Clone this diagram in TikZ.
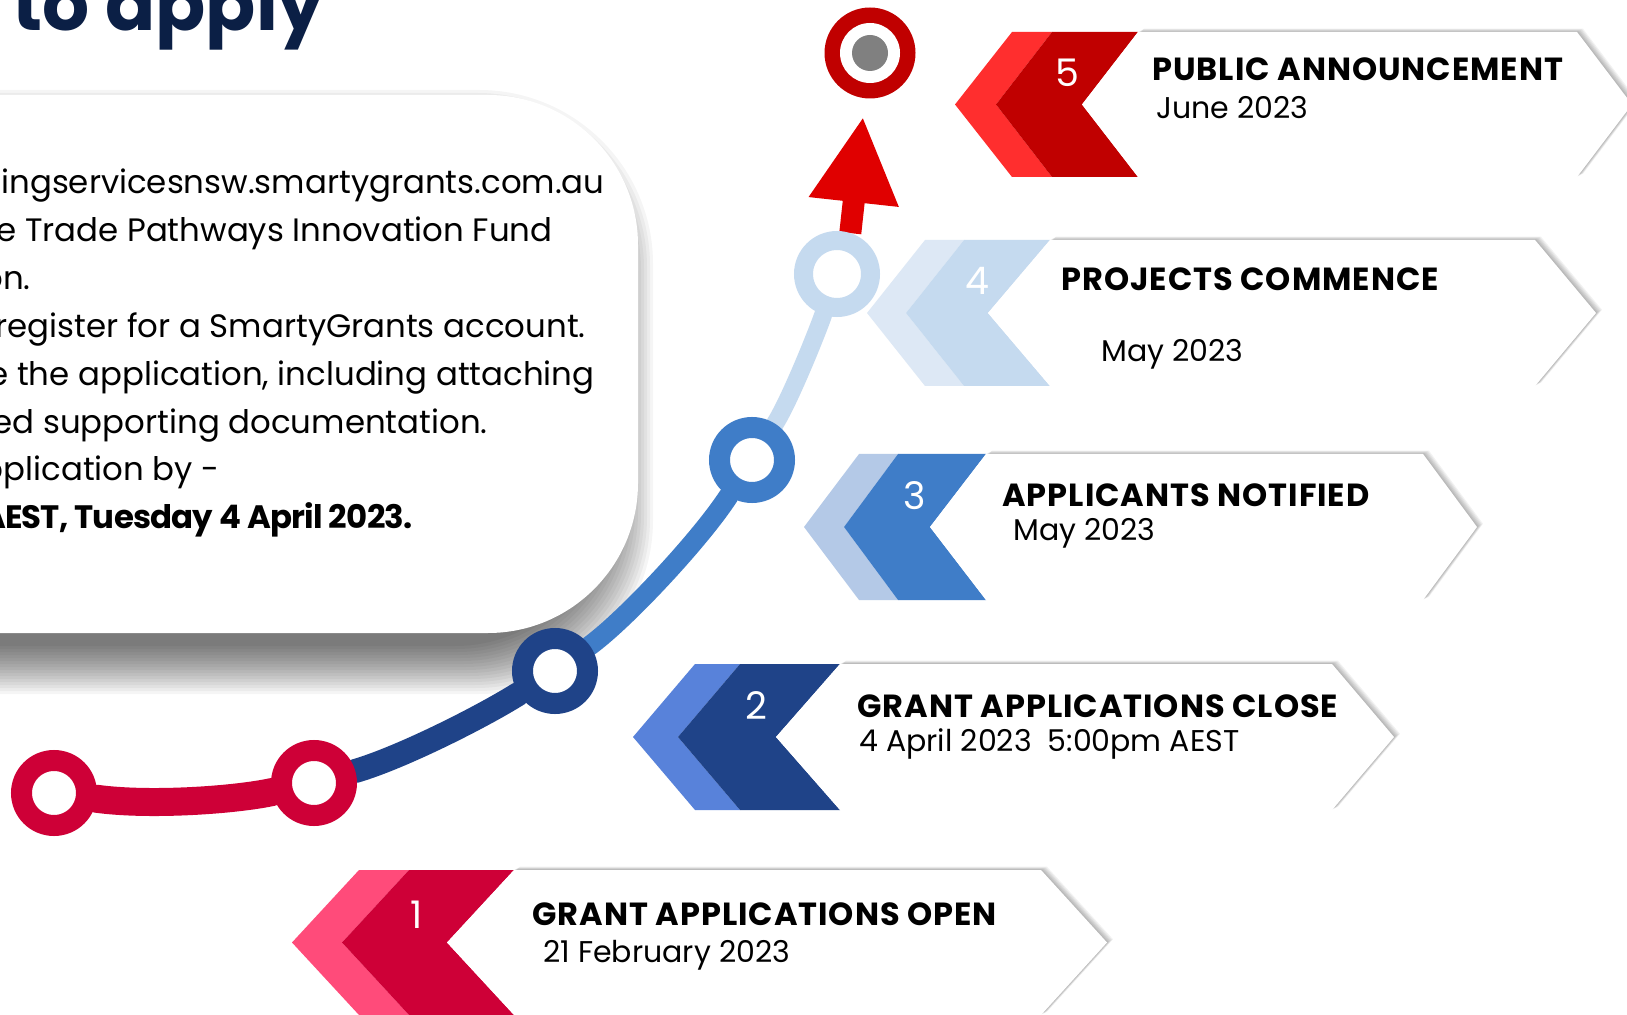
\documentclass[tikz,border=0pt]{standalone}
\usepackage{fontspec}
\setmainfont{Poppins}
\newfontfamily\headfont[LetterSpace=3]{Poppins}
\newfontfamily\tightfont[LetterSpace=-2.5]{Poppins}
\usetikzlibrary{arrows.meta}
\definecolor{cTitle}{HTML}{0B1F45}
\definecolor{cCrim}{HTML}{CE0037}
\definecolor{cPink}{HTML}{FF4B7A}
\definecolor{cNavy}{HTML}{1F4388}
\definecolor{cBlueL}{HTML}{5882DA}
\definecolor{cBlue}{HTML}{3F7DC8}
\definecolor{cBlueP}{HTML}{B4C9E7}
\definecolor{cSky}{HTML}{C5DAEF}
\definecolor{cSkyP}{HTML}{DDE8F5}
\definecolor{cRed}{HTML}{C00000}
\definecolor{cRedL}{HTML}{FF2E2E}
\definecolor{cArrow}{HTML}{E00000}
\definecolor{cGrey}{HTML}{808080}
\pgfdeclarelayer{back}
\pgfdeclarelayer{paper}
\pgfsetlayers{paper,back,main}
\newcommand\Plate[1]{%
  \foreach \s in {1,...,6}{\fill[black, opacity=0.05, shift={(1.0*\s,-0.55*\s)}] #1;}%
  \fill[white] #1;}
\tikzset{
  ring/.style={circle, minimum size=32.5pt, inner sep=0pt, line width=10.5pt, draw=#1, fill=white},
  seg/.style={draw=#1, line cap=round},
  head/.style={anchor=base west, inner sep=0pt, font=\headfont\fontsize{16pt}{18pt}\selectfont\bfseries},
  sub/.style={anchor=base west, inner sep=0pt, font=\fontsize{15pt}{17pt}\selectfont},
  num/.style={inner sep=0pt, text=white, font=\fontsize{19pt}{22pt}\selectfont},
  body/.style={anchor=base east, inner sep=0pt, font=\fontsize{16.2pt}{20pt}\selectfont},
}
\begin{document}
\begin{tikzpicture}[x=0.5pt,y=-0.5pt]
\useasboundingbox (0,0) rectangle (1627,1015);
\clip (0,0) rectangle (1627,1015);
\begin{pgfonlayer}{paper}
\fill[white] (0,0) rectangle (1627,1015);
% soft shadow of the info box
\foreach \e in {0,3,...,48}{
  \fill[black, opacity=0.038, rounded corners={75pt+\e*0.25pt}] (-400-\e,138-\e) rectangle (605+\e,646+\e);}
\fill[white] (-400,95) [rounded corners=75pt] -- (638,95) -- (638,633) [sharp corners] -- (-400,633) -- cycle;
\end{pgfonlayer}

\node[anchor=base west, inner sep=0pt, text=cTitle, font=\fontsize{37pt}{40pt}\selectfont\bfseries] (title) at (12,31) {to apply};

\node[body] (l1) at (605,194) {ingservicesnsw.smartygrants.com.au};
\node[body] (l2) at (553,242) {e Trade Pathways Innovation Fund};
\node[body] (l3) at (31,290) {on.};
\node[body] (l4) at (586,338) {register for a SmartyGrants account.};
\node[body] (l5) at (595,386) {e the application, including attaching};
\node[body] (l6) at (488,434) {ed supporting documentation.};
\node[body] (l7) at (220,481) {pplication by -};
\node[body, font=\tightfont\fontsize{16.2pt}{20pt}\selectfont\bfseries] (l8) at (413,529) {AEST, Tuesday 4 April 2023.};

% banner 5
\fill[cRedL] (1012,32) -- (955,104.5) -- (1012,177) -- (1052,177) -- (996,104.5) -- (1052,32) -- cycle;
\fill[cRed] (1052,32) -- (996,104.5) -- (1052,177) -- (1138,177) -- (1082,104.5) -- (1138,32) -- cycle;
\Plate{(1138,32) -- (1577,32) -- (1632,104.5) -- (1577,177) -- (1138,177) -- (1082,104.5) -- cycle}
% banner 4
\fill[cSkyP] (925,240) -- (867,313) -- (925,386) -- (964,386) -- (906,313) -- (964,240) -- cycle;
\fill[cSky] (964,240) -- (906,313) -- (964,386) -- (1050,386) -- (988,313) -- (1050,240) -- cycle;
\Plate{(1050,240) -- (1535,240) -- (1596,313) -- (1535,386) -- (1050,386) -- (988,313) -- cycle}
% banner 3
\fill[cBlueP] (859,454) -- (804,527) -- (859,600) -- (898,600) -- (844,527) -- (898,454) -- cycle;
\fill[cBlue] (898,454) -- (844,527) -- (898,600) -- (986,600) -- (930,527) -- (986,454) -- cycle;
\Plate{(986,454) -- (1423,454) -- (1477,527) -- (1423,600) -- (986,600) -- (930,527) -- cycle}
% banner 2
\fill[cBlueL] (695,664) -- (633,737) -- (695,810) -- (740,810) -- (678,737) -- (740,664) -- cycle;
\fill[cNavy] (740,664) -- (678,737) -- (740,810) -- (840,810) -- (776,737) -- (840,664) -- cycle;
\Plate{(840,664) -- (1332,664) -- (1394,737) -- (1332,810) -- (840,810) -- (776,737) -- cycle}
% banner 1
\fill[cPink] (359,870) -- (292,942.5) -- (359,1015) -- (409,1015) -- (342,942.5) -- (409,870) -- cycle;
\fill[cCrim] (409,870) -- (342,942.5) -- (409,1015) -- (514,1015) -- (447,942.5) -- (514,870) -- cycle;
\Plate{(514,870) -- (1041,870) -- (1107,942.5) -- (1041,1015) -- (514,1015) -- (447,942.5) -- cycle}

% banner texts
\node[num] (n5) at (1067,73) {5};
\node[head] (h5) at (1152,81) {PUBLIC ANNOUNCEMENT};
\node[sub] (s5) at (1156,119) {June 2023};
\node[num] (n4) at (977,281) {4};
\node[head] (h4) at (1061,291) {PROJECTS COMMENCE};
\node[sub] (s4) at (1101,362) {May 2023};
\node[num] (n3) at (915,496) {3};
\node[head] (h3) at (1002,507) {APPLICANTS NOTIFIED};
\node[sub] (s3) at (1013,541) {May 2023};
\node[num] (n2) at (756,706) {2};
\node[head] (h2) at (857,717) {GRANT APPLICATIONS CLOSE};
\node[sub] (s2) at (859,751) {4 April 2023\ \ 5:00pm AEST};
\node[num] (n1) at (417,915) {1};
\node[head] (h1) at (532,925) {GRANT APPLICATIONS OPEN};
\node[sub] (s1) at (543,962) {21 February 2023};

% timeline rings
\node[ring=cCrim] (A) at (54,793) {};
\node[ring=cCrim] (B) at (314,783) {};
\node[ring=cNavy] (C) at (555,671) {};
\node[ring=cBlue] (D) at (752,460) {};
\node[ring=cSky, line width=9.5pt, minimum size=33.5pt] (E) at (837,274) {};
\node[circle, fill=cRed, minimum size=91pt/2, inner sep=0pt] (T) at (870,53) {};
\fill[white] (T.center) circle (15pt);
\fill[cGrey] (T.center) circle (9pt);

\begin{pgfonlayer}{back}
\draw[seg=cCrim, line width=14pt] (A) .. controls (150,806) and (235,800) .. (B);
\draw[seg=cNavy, line width=12pt] (B) .. controls (400,758) and (480,718) .. (C);
\draw[seg=cBlue, line width=10pt] (C) .. controls (625,620) and (700,540) .. (D);
\draw[seg=cSky, line width=9pt] (D) .. controls (790,400) and (818,330) .. (E);
\draw[draw=cArrow, line width=11pt, shorten >=9pt, -{Triangle[length=43pt,width=42pt]}] (E.72) -- (T);
\end{pgfonlayer}
\end{tikzpicture}
\end{document}
